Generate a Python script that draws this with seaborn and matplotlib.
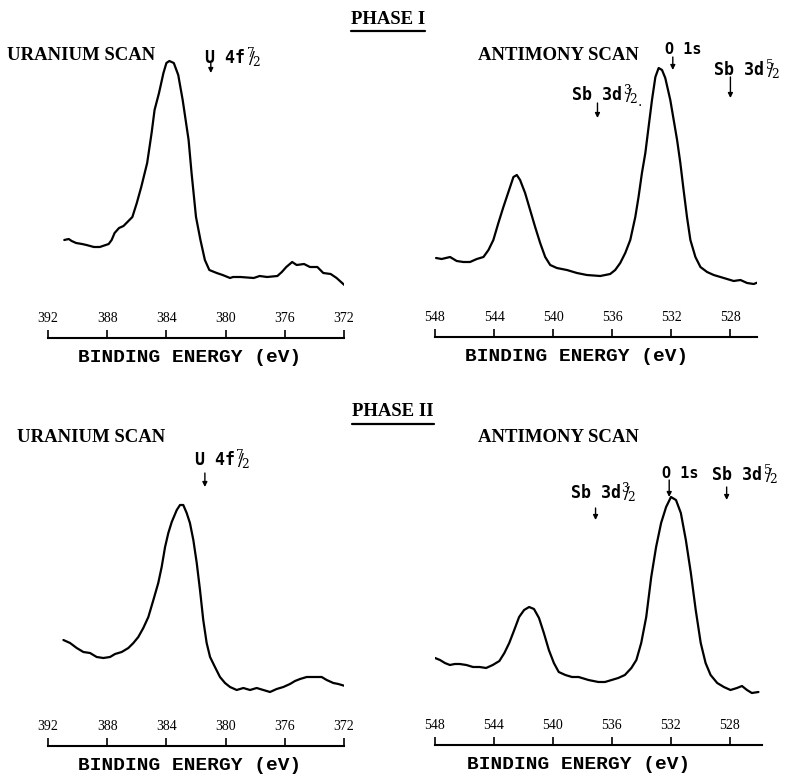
import numpy as np
import pandas as pd
import seaborn as sns
import matplotlib.pyplot as plt
from matplotlib.lines import Line2D

sns.set_theme(style="white")
plt.rcParams['font.family'] = ['DejaVu Sans']
plt.rcParams['text.color'] = 'black'

# ---------------- data (binding energy in eV, intensity in arbitrary units) -------------
p1_u_energy = [390.9, 390.6, 390.4, 390.1, 389.7, 389.4, 388.9, 388.5, 388.1, 387.9, 387.7, 387.5,
               387.2, 386.9, 386.7, 386.3, 386.0, 385.7, 385.3, 385.0, 384.8, 384.5, 384.2,
               384.0, 383.8, 383.5, 383.2, 382.9, 382.5, 382.3, 382.0, 381.7, 381.4, 381.1,
               380.6, 380.2, 379.7, 379.5, 379.0, 378.1, 377.7, 377.2, 376.5, 376.2, 375.9,
               375.5, 375.2, 374.7, 374.3, 373.8, 373.4, 372.9, 372.5, 371.9]
p1_u_counts = [98, 99, 97, 95, 94, 93, 91, 91, 93, 94, 98, 105,
               110, 112, 115, 121, 135, 151, 175, 205, 228, 245, 265,
               275, 277, 275, 263, 238, 198, 165, 121, 98, 78, 68,
               65, 63, 60, 61, 61, 60, 62, 61, 62, 66, 71,
               76, 73, 74, 71, 71, 65, 64, 60, 52]

p1_sb_energy = [547.93, 547.55, 546.98, 546.53, 546.08, 545.63, 545.17, 544.72, 544.38, 544.05,
                543.71, 543.37, 543.03, 542.69, 542.46, 542.24, 541.90, 541.56, 541.22, 540.88,
                540.54, 540.20, 539.75, 539.07, 538.39, 537.72, 536.81, 536.14, 535.80, 535.46,
                535.12, 534.78, 534.44, 534.22, 533.99, 533.76, 533.54, 533.31, 533.08, 532.86,
                532.63, 532.41, 532.07, 531.84, 531.61, 531.39, 531.17, 530.94, 530.71, 530.37,
                530.03, 529.58, 529.13, 528.45, 527.78, 527.32, 526.87, 526.42, 526.08]
p1_sb_counts = [79, 78, 80, 76, 75, 75, 78, 80, 87, 97,
                114, 130, 145, 160, 162, 157, 144, 127, 110, 94,
                80, 72, 69, 67, 64, 62, 61, 63, 67, 74,
                84, 97, 120, 140, 164, 184, 210, 237, 260, 269,
                267, 259, 237, 217, 197, 174, 147, 120, 97, 80,
                70, 65, 62, 59, 56, 57, 54, 53, 55]

p2_u_energy = [390.96, 390.51, 390.06, 389.61, 389.16, 388.71, 388.26, 387.81, 387.47, 387.02,
               386.57, 386.23, 385.90, 385.56, 385.22, 384.88, 384.55, 384.32, 384.09, 383.87,
               383.64, 383.30, 383.08, 382.86, 382.63, 382.41, 382.18, 381.95, 381.73, 381.51,
               381.28, 381.05, 380.72, 380.38, 380.04, 379.70, 379.25, 378.80, 378.35, 377.90,
               377.45, 377.00, 376.55, 376.10, 375.65, 375.31, 374.97, 374.52, 374.07, 373.51,
               373.17, 372.72, 372.38, 371.93]
p2_u_counts = [106, 103, 98, 94, 93, 89, 88, 89, 92, 94,
               98, 103, 109, 118, 129, 146, 163, 179, 199, 213,
               224, 236, 241, 241, 233, 223, 206, 183, 156, 126,
               103, 89, 79, 69, 63, 59, 56, 58, 56, 58,
               56, 54, 57, 59, 62, 65, 67, 69, 69, 69,
               66, 63, 62, 60]

p2_sb_energy = [548.00, 547.66, 547.33, 546.99, 546.66, 546.32, 545.87, 545.42, 544.97, 544.53,
                544.08, 543.63, 543.29, 542.96, 542.62, 542.29, 541.95, 541.61, 541.28, 540.94,
                540.61, 540.27, 539.93, 539.60, 539.15, 538.70, 538.25, 537.58, 536.91, 536.46,
                536.01, 535.56, 535.11, 534.67, 534.33, 534.00, 533.66, 533.32, 532.99, 532.65,
                532.31, 531.98, 531.64, 531.31, 530.97, 530.63, 530.30, 529.96, 529.63, 529.29,
                528.84, 528.39, 527.94, 527.50, 527.16, 526.82, 526.49, 526.04]
p2_sb_counts = [87, 85, 82, 80, 81, 81, 80, 78, 78, 77,
                80, 84, 92, 102, 115, 128, 135, 138, 136, 127,
                112, 95, 82, 73, 70, 68, 68, 65, 63, 63,
                65, 67, 70, 77, 85, 102, 128, 168, 198, 222,
                238, 248, 245, 232, 205, 172, 135, 102, 82, 70,
                62, 58, 55, 57, 59, 55, 52, 53]

u_ticks = [392, 388, 384, 380, 376, 372]
sb_ticks = [548, 544, 540, 536, 532, 528]

phase_titles = ["PHASE I", "PHASE II"]
scan_titles = ["URANIUM SCAN", "ANTIMONY SCAN"]
x_label = "BINDING ENERGY (eV)"

# ---------------- layout ----------------
W, H = 788, 783
fig = plt.figure(figsize=(W / 100, H / 100), dpi=100)
fig.patch.set_facecolor("white")


def rect(x0, x1, top, base):
    return [x0 / W, 1 - base / H, (x1 - x0) / W, (base - top) / H]


def px(x, y):
    return (x / W, 1 - y / H)


mono = "DejaVu Sans Mono"
serif = "Liberation Serif"
typew = "Liberation Mono"

panels = [
    dict(rect=rect(48, 344, 40, 338), xlim=(392, 372), ylim=(0, 298),
         e=p1_u_energy, c=p1_u_counts, ticks=u_ticks, xl=0.48),
    dict(rect=rect(435, 757, 40, 337), xlim=(548, 526.2), ylim=(0, 297),
         e=p1_sb_energy, c=p1_sb_counts, ticks=sb_ticks, xl=0.44),
    dict(rect=rect(48, 344, 440, 746), xlim=(392, 372), ylim=(0, 306),
         e=p2_u_energy, c=p2_u_counts, ticks=u_ticks, xl=0.48),
    dict(rect=rect(435, 762, 440, 745), xlim=(548, 525.8), ylim=(0, 305),
         e=p2_sb_energy, c=p2_sb_counts, ticks=sb_ticks, xl=0.44),
]

axes = []
for p in panels:
    ax = fig.add_axes(p["rect"])
    ax.set_facecolor("none")
    df = pd.DataFrame({"energy": p["e"], "counts": p["c"]})
    sns.lineplot(data=df, x="energy", y="counts", ax=ax, color="black",
                 linewidth=1.6, estimator=None)
    ax.set_xlim(*p["xlim"])
    ax.set_ylim(*p["ylim"])
    for s in ["top", "left", "right"]:
        ax.spines[s].set_visible(False)
    ax.spines["bottom"].set_color("black")
    ax.spines["bottom"].set_linewidth(1.5)
    ax.set_yticks([])
    ax.set_ylabel("")
    ax.set_xticks(p["ticks"])
    ax.set_xticklabels([str(t) for t in p["ticks"]], fontfamily=serif, fontsize=10)
    ax.tick_params(axis="x", direction="in", length=6, width=1.2, color="black",
                   pad=-19, bottom=True, labelcolor="black")
    ax.set_xlabel(x_label, fontfamily=typew, fontweight="bold", fontsize=14,
                  labelpad=8, x=p["xl"], color="black")
    ax.grid(False)
    axes.append(ax)

ax1, ax2, ax3, ax4 = axes

# ---------------- titles ----------------
t1 = fig.text(*px(388, 19), phase_titles[0], ha="center", va="center",
              fontfamily=serif, fontweight="bold", fontsize=13.5, color="black")
t2 = fig.text(*px(393, 412), phase_titles[1], ha="center", va="center",
              fontfamily=serif, fontweight="bold", fontsize=13.5, color="black")
for (xx, yy), s in [((7, 55), scan_titles[0]), ((478, 55), scan_titles[1]),
                    ((17, 437), scan_titles[0]), ((478, 437), scan_titles[1])]:
    fig.text(*px(xx, yy), s, ha="left", va="center", fontfamily=serif,
             fontweight="bold", fontsize=13.5, color="black")

# ---------------- peak labels with arrows ----------------


def peak(ax, label, frac, tx, ty, ax_x, ay0, ay1, size=12, tail=""):
    t = ax.text(tx, ty, label, ha="left", va="center", fontfamily=mono,
                fontweight="bold", fontsize=size, color="black", clip_on=False)
    if frac:
        f = ax.annotate(r"$^{%s}\!\!/\!_{%s}$" % frac, xy=(1, 0.5), xycoords=t,
                        xytext=(0.5, 0), textcoords="offset points",
                        ha="left", va="center", fontsize=12.5, color="black",
                        math_fontfamily="dejavuserif")
        if tail:
            ax.annotate(tail, xy=(1, 0.2), xycoords=f, xytext=(0, 0),
                        textcoords="offset points", ha="left", va="center",
                        fontsize=10, color="black")
    ax.annotate("", xy=(ax_x, ay1), xytext=(ax_x, ay0),
                arrowprops=dict(arrowstyle="-|>", color="black", lw=1.0,
                                mutation_scale=7, shrinkA=0, shrinkB=0),
                annotation_clip=False)


peak(ax1, "U 4f", ("7", "2"), 381.4, 280, 381.0, 275, 265)
peak(ax2, "O 1s", None, 532.4, 287, 531.9, 280, 267, size=11)
peak(ax2, "Sb 3d", ("5", "2"), 529.1, 267, 528.0, 260, 239)
peak(ax2, "Sb 3d", ("3", "2"), 538.7, 242, 537.0, 234, 219, tail=".")
peak(ax3, "U 4f", ("7", "2"), 382.1, 286, 381.4, 273, 259)
peak(ax4, "O 1s", None, 532.6, 272, 532.1, 265, 248, size=11)
peak(ax4, "Sb 3d", ("5", "2"), 529.2, 270, 528.2, 258, 245)
peak(ax4, "Sb 3d", ("3", "2"), 538.8, 252, 537.1, 237, 225)

# ---------------- underline phase titles ----------------
fig.canvas.draw()
r = fig.canvas.get_renderer()
for t in (t1, t2):
    bb = t.get_window_extent(renderer=r)
    yline = bb.y0 - 3
    fig.add_artist(Line2D([bb.x0 / W, bb.x1 / W], [yline / H, yline / H],
                          color="black", lw=1.6))

fig.savefig("out.png", dpi=100, facecolor="white")
